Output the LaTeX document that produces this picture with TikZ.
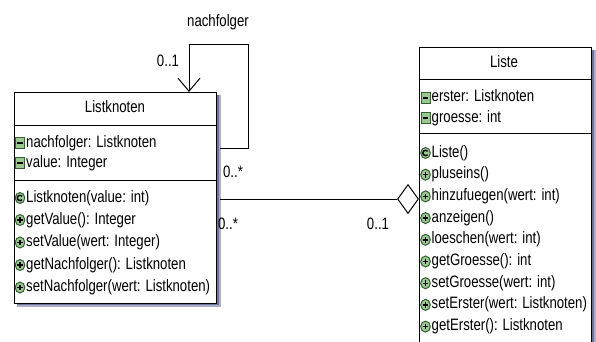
\documentclass[tikz,border=0pt]{standalone}
\usepackage{fontspec}
\setmainfont{Liberation Sans}[FakeStretch=0.8]
\usetikzlibrary{arrows.meta,shapes.geometric}
\definecolor{shadowc}{RGB}{110,115,150}
\definecolor{shadowl}{RGB}{170,174,200}
\definecolor{iconfill}{RGB}{155,200,145}
\definecolor{icondark}{RGB}{50,95,50}
\tikzset{
  attricon/.pic={\path[draw=icondark, fill=iconfill, line width=1pt] (-4.5,-5.3) rectangle (4.5,5.3);
                 \path[draw=black, line width=1.8pt] (-2.8,0) -- (2.8,0);},
  methicon/.pic={\path[draw=icondark, fill=iconfill, line width=1pt] (0,0) ellipse [x radius=4.8pt, y radius=5.5pt];
                 \path[draw=black, line width=1.4pt] (-2.8,0) -- (2.8,0) (0,-2.8) -- (0,2.8);},
  ctoricon/.pic={\path[draw=icondark, fill=iconfill, line width=1pt] (0,0) ellipse [x radius=4.8pt, y radius=5.5pt];
                 \path[draw=black, line width=1.4pt] (40:2.7pt) arc[start angle=40, end angle=320, radius=2.7pt];}
}
\begin{document}
\begin{tikzpicture}[x=1pt,y=-1pt, font=\fontsize{16.5}{18}\selectfont,
  txt/.style={inner sep=0pt, anchor=west, text height=11.5pt, text depth=3.5pt},
  lbl/.style={inner sep=0pt, text height=11.5pt, text depth=3.5pt},
  classbox/.style={draw, line width=1pt, fill=white, inner sep=0pt, anchor=north west},
  sepline/.style={line width=1pt},
  conn/.style={line width=1pt},
  boxshadow/.style={fill=shadowc, draw=none},
  boxshadowl/.style={fill=shadowl, draw=none}]
\useasboundingbox (0,0) rectangle (596,342);

% ---- Listknoten ----
\node[classbox, minimum width=202pt, minimum height=211pt] (lk) at (14,92) {};
\path[boxshadowl] (216.5,95) rectangle (220.5,307);
\path[boxshadowl] (17,303.5) rectangle (220.5,307);
\path[boxshadow] (216.5,95) rectangle (218.5,305);
\path[boxshadow] (17,303.5) rectangle (218.5,305);
\draw[sepline] (lk.west |- 0,125) -- (lk.east |- 0,125);
\draw[sepline] (lk.west |- 0,180) -- (lk.east |- 0,180);
\node[lbl] (lkname) at (115,109) {Listknoten};
\pic at (20,143) {attricon};
\node[txt] (lka1) at (26,143) {nachfolger: Listknoten};
\pic at (20,163) {attricon};
\node[txt] (lka2) at (26,163) {value: Integer};
\pic at (20,198) {ctoricon};
\node[txt] (lkm1) at (26,198) {Listknoten(value: int)};
\pic at (20,220) {methicon};
\node[txt] (lkm2) at (26,220) {getValue(): Integer};
\pic at (20,242.5) {methicon};
\node[txt] (lkm3) at (26,242.5) {setValue(wert: Integer)};
\pic at (20,265) {methicon};
\node[txt] (lkm4) at (26,265) {getNachfolger(): Listknoten};
\pic at (20,287.5) {methicon};
\node[txt] (lkm5) at (26,287.5) {setNachfolger(wert: Listknoten)};

% ---- Liste ----
\node[classbox, minimum width=172pt, minimum height=320pt] (li) at (419,47) {};
\path[boxshadowl] (591.5,50) rectangle (595.5,342);
\path[boxshadow] (591.5,50) rectangle (593.5,342);
\draw[sepline] (li.west |- 0,80) -- (li.east |- 0,80);
\draw[sepline] (li.west |- 0,133) -- (li.east |- 0,133);
\node[lbl] (liname) at (504,64) {Liste};
\pic at (425.5,98) {attricon};
\node[txt] (lia1) at (431.5,98) {erster: Listknoten};
\pic at (425.5,118) {attricon};
\node[txt] (lia2) at (431.5,118) {groesse: int};
\pic at (425.5,153) {ctoricon};
\node[txt] (lim1) at (431.5,153) {Liste()};
\pic at (425.5,174.7) {methicon};
\node[txt] (lim2) at (431.5,174.7) {pluseins()};
\pic at (425.5,196.4) {methicon};
\node[txt] (lim3) at (431.5,196.4) {hinzufuegen(wert: int)};
\pic at (425.5,218.1) {methicon};
\node[txt] (lim4) at (431.5,218.1) {anzeigen()};
\pic at (425.5,239.8) {methicon};
\node[txt] (lim5) at (431.5,239.8) {loeschen(wert: int)};
\pic at (425.5,261.5) {methicon};
\node[txt] (lim6) at (431.5,261.5) {getGroesse(): int};
\pic at (425.5,283.2) {methicon};
\node[txt] (lim7) at (431.5,283.2) {setGroesse(wert: int)};
\pic at (425.5,304.9) {methicon};
\node[txt] (lim8) at (431.5,304.9) {setErster(wert: Listknoten)};
\pic at (425.5,326.6) {methicon};
\node[txt] (lim9) at (431.5,326.6) {getErster(): Listknoten};

% ---- connectors ----
\draw[conn, -{Straight Barb[length=13pt,width=22pt]}]
  ([xshift=3pt]lk.east |- 0,148) -- (248,148) -- (248,45) -- (189,45) -- (lk.north -| 189,0);
\node[diamond, draw, fill=white, line width=1pt, aspect=0.7, minimum width=21pt,
      minimum height=29pt, inner sep=0pt, anchor=east] (dia) at (li.west |- 0,199) {};
\draw[conn] ([xshift=3pt]lk.east |- 0,199) -- (dia.west);

% ---- labels ----
\node[lbl] (nf) at (218,23) {nachfolger};
\node[lbl] (m1) at (168,63) {0..1};
\node[lbl] (m2) at (233,173) {0..*};
\node[lbl] (m3) at (228,225) {0..*};
\node[lbl] (m4) at (378,225) {0..1};
\end{tikzpicture}
\end{document}
